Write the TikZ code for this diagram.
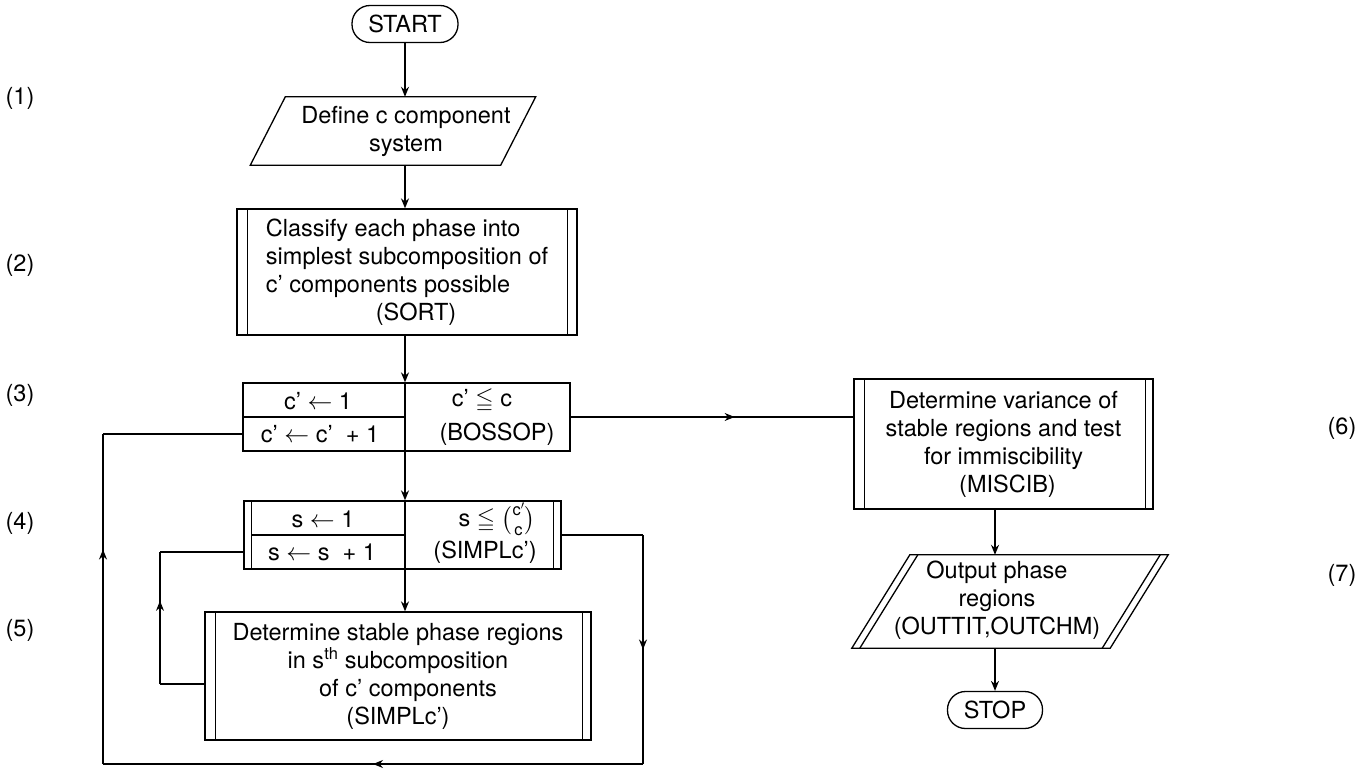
\documentclass[tikz,border=0pt]{standalone}
\usepackage{amsmath,amssymb}
\usepackage{fontspec}
\setmainfont{TeX Gyre Heros}
\usetikzlibrary{arrows.meta,decorations.markings}

% double side bars of a predefined-process box
\newcommand\sidebars[3]{%
  \draw[flow] ([xshift=#2]#1.north west) -- ([xshift=#2]#1.south west);
  \draw[flow] ([xshift=-#3]#1.north east) -- ([xshift=-#3]#1.south east);}

\tikzset{
  every node/.style={font=\fontsize{23.5}{28}\selectfont, inner sep=0pt},
  flow/.style={line width=1.3pt},
  tip/.style={flow, -{Stealth[length=10pt,width=8pt]}},
  midtip/.style={flow, postaction={decorate}, decoration={markings,
      mark=at position #1 with {\arrow{Stealth[length=10pt,width=8pt]}}}},
  terminal/.style={draw, flow, rounded corners=18pt, minimum height=37pt},
  boxed/.style={draw, flow},
  plain/.style={shape=rectangle},
}

\begin{document}
\begin{tikzpicture}[x=1pt,y=-1pt]
\useasboundingbox (0,0) rectangle (1367,768);

% main columns
\coordinate (axis) at (405,0);
\coordinate (axisb) at (995,0);

% ---------- left column ----------
\node[terminal, minimum width=106pt] (start) at (405,24) {START};

\node[plain, minimum width=250pt, minimum height=68pt] (def) at (393,131) {};
\node[align=center] (deftext) at (406,131) {Define c component\\system};
\draw[flow] ([xshift=17.5pt]def.north west) -- ([xshift=17.5pt]def.north east)
  -- ([xshift=-17.5pt]def.south east) -- ([xshift=-17.5pt]def.south west) -- cycle;

\node[boxed, minimum width=340pt, minimum height=126pt, align=left] (sort) at (407,272)
  {Classify each phase into\\simplest subcomposition of\\c' components possible\\\hspace*{110pt}(SORT)};
\sidebars{sort}{11pt}{10pt}

% c' loop box
\node[boxed, minimum width=327pt, minimum height=68pt] (cloop) at (406.5,417) {};
\draw[flow] (cloop.west) -- (axis |- cloop.west);
\node (c1) at (318,401) {c' \ensuremath{\leftarrow} 1};
\node (c2) at (320,434) {c' \ensuremath{\leftarrow} c'\ \ + 1};
\node (c3) at (482,401) {c' \ensuremath{\leqq} c};
\node (c4) at (497,434) {(BOSSOP)};

% s loop box
\node[boxed, minimum width=317pt, minimum height=68pt] (sloop) at (402.5,535) {};
\sidebars{sloop}{8pt}{8pt}
\draw[flow] ([xshift=8pt]sloop.west) -- (axis |- sloop.west);
\node (s1) at (323,519) {s \ensuremath{\leftarrow} 1};
\node (s2) at (322,552) {s \ensuremath{\leftarrow} s\ \ + 1};
\node (s3) at (497,519) {s \ensuremath{\leqq} \ensuremath{\tbinom{\text{c}'}{\text{c}}}};
\node (s4) at (485,552) {(SIMPLc')};

% inner step box
\node[boxed, minimum width=386pt, minimum height=128pt, align=center] (stab) at (398,676)
  {Determine stable phase regions\\in s\textsuperscript{th} subcomposition\\\hspace*{20pt}of c' components\\(SIMPLc')};
\sidebars{stab}{11pt}{9pt}

% ---------- right column ----------
\node[boxed, minimum width=299pt, minimum height=130pt, align=center] (misc) at (1003.5,444)
  {Determine variance of\\stable regions and test\\for immiscibility\\\hspace*{8pt}(MISCIB)};
\sidebars{misc}{11pt}{8pt}

\node[plain, minimum width=258pt, minimum height=93pt] (out) at (1010,601.5) {};
\node[align=center] (outtext) at (997,600) {Output phase\\regions\\(OUTTIT,OUTCHM)};
\draw[flow] ([xshift=29pt]out.north west) -- ([xshift=29pt]out.north east)
  -- ([xshift=-29pt]out.south east) -- ([xshift=-29pt]out.south west) -- cycle;
\draw[flow] ([xshift=37pt]out.north west) -- ([xshift=-21pt]out.south west);
\draw[flow] ([xshift=21pt]out.north east) -- ([xshift=-37pt]out.south east);

\node[terminal, minimum width=95pt] (stop) at (995,710) {STOP};

% ---------- step numbers ----------
\node (n1) at (20,98) {(1)};
\node (n2) at (20,265) {(2)};
\node (n3) at (20,395) {(3)};
\node (n4) at (20,523) {(4)};
\node (n5) at (20,630) {(5)};
\node (n6) at (1342,428) {(6)};
\node (n7) at (1342,575) {(7)};

% ---------- connectors ----------
\draw[tip] (start.south) -- (axis |- def.north);
\draw[tip] (axis |- def.south) -- (axis |- sort.north);
\draw[tip] (axis |- sort.south) -- (axis |- cloop.north);
\draw[flow] (axis |- cloop.north) -- (axis |- cloop.south);
\draw[tip] (axis |- cloop.south) -- (axis |- sloop.north);
\draw[flow] (axis |- sloop.north) -- (axis |- sloop.south);
\draw[tip] (axis |- sloop.south) -- (axis |- stab.north);

\draw[midtip=0.58] (cloop.east) -- (cloop.east -| misc.west);
\draw[tip] (axisb |- misc.south) -- (axisb |- out.north);
\draw[tip] (axisb |- out.south) -- (stop.north);

% inner loop: next subcomposition
\coordinate (sin) at ([yshift=-17pt]sloop.west);
\coordinate (sout) at ([yshift=-8pt]stab.west);
\coordinate (il) at (160,0);
\draw[flow] (sout) -- (il |- sout);
\draw[midtip=0.63] (il |- sout) -- (il |- sin);
\draw[flow] (il |- sin) -- (sin);

% outer loop: next component count
\coordinate (cin) at ([yshift=-17pt]cloop.west);
\coordinate (rb) at (643,764);
\coordinate (lb) at (103,764);
\draw[flow] (sloop.east) -- (sloop.east -| rb);
\draw[midtip=0.5] (sloop.east -| rb) -- (rb);
\draw[midtip=0.5] (rb) -- (lb);
\draw[midtip=0.65] (lb) -- (lb |- cin);
\draw[flow] (lb |- cin) -- (cin);
\end{tikzpicture}
\end{document}
